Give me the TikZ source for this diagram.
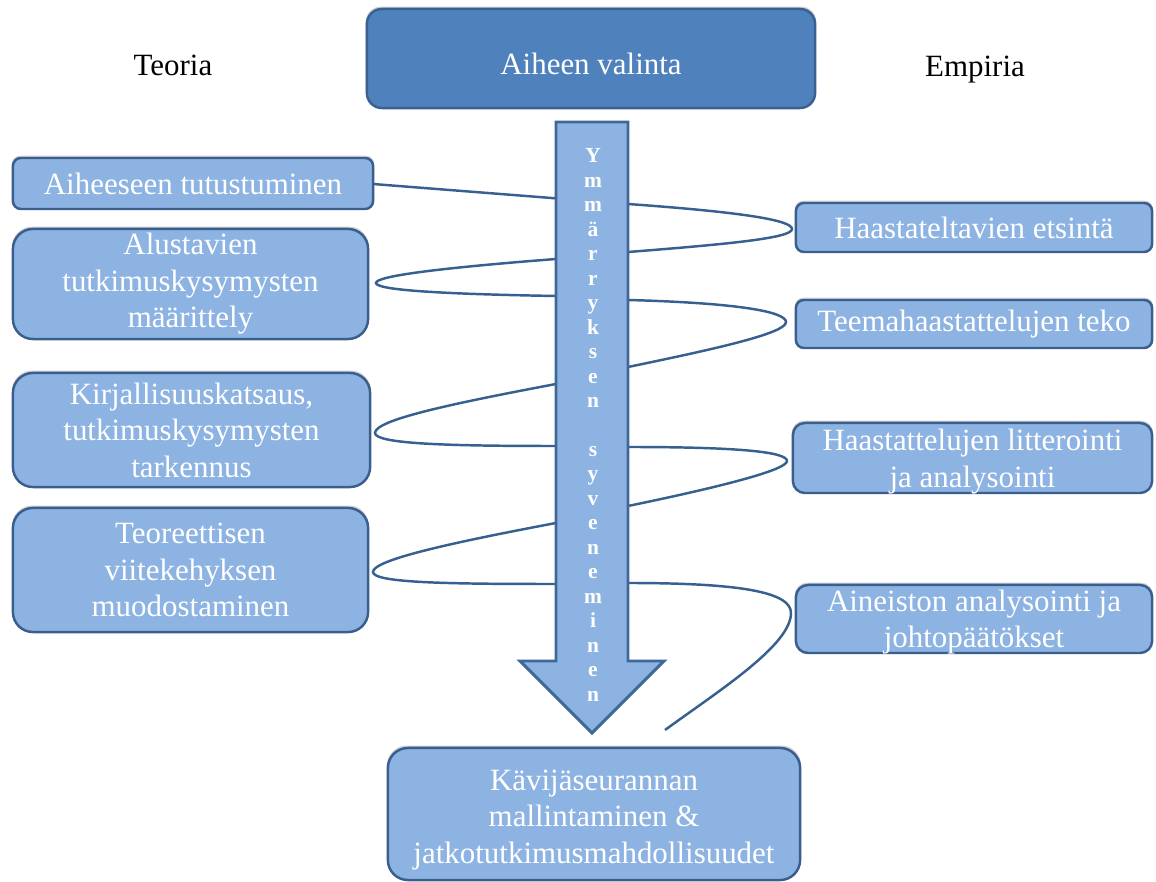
\documentclass[tikz,border=0pt]{standalone}
\usepackage{fontspec}
\setmainfont{Liberation Serif}
\usetikzlibrary{shadows}
\definecolor{boxfill}{HTML}{8DB3E2}
\definecolor{boxline}{HTML}{3A5F8E}
\definecolor{topfill}{HTML}{4F81BD}
\definecolor{topline}{HTML}{3B6193}
\definecolor{spiralcol}{HTML}{36608F}
\definecolor{arrowline}{HTML}{3F6797}
\begin{document}
\begin{tikzpicture}[x=0.01cm,y=-0.01cm,
  box/.style={draw=boxline, line width=0.7pt, fill=boxfill, rounded corners=#1,
    inner sep=0pt, text=white, align=center,
    font=\fontsize{8.8}{10.4}\selectfont,
    drop shadow={opacity=0.3, shadow xshift=0pt, shadow yshift=0.6pt, shadow scale=1.005, fill=black!60}},
  box/.default=0.08cm,
  topbox/.style={box=0.15cm, fill=topfill, draw=topline},
  boxtext/.style={text=white, align=center, inner sep=0pt, font=\fontsize{8.8}{10.4}\selectfont},
  sidelabel/.style={font=\fontsize{8.8}{10.4}\selectfont, text=black, inner sep=0pt, anchor=base},
  spiralline/.style={draw=spiralcol, line width=0.7pt},
  bigarrow/.style={draw=arrowline, line width=0.85pt, fill=boxfill, line join=miter},
  arrowtext/.style={text=white, align=center, inner sep=0pt, font=\bfseries\fontsize{6.1}{6.96}\selectfont}
]
\useasboundingbox (0,0) rectangle (1156,882);

% top box and side labels
\node[topbox, minimum width=4.48cm, minimum height=0.99cm] (top) at (591,58.5) {};
\node[boxtext, anchor=base] (toptext) at (591,75) {Aiheen valinta};
\node[sidelabel] (teoria) at (173,76) {Teoria};
\node[sidelabel] (empiria) at (975,77) {Empiria};

% spiral (drawn behind the arrow)
\coordinate (spiralend) at (665,730);
\draw[spiralline] (373,184) -- (628,204)
  .. controls (740,212) and (792,220) .. (792,229)
  .. controls (792,238) and (730,244) .. (628,252)
  -- (556,259)
  .. controls (440,268) and (376,276) .. (376,283)
  .. controls (376,290) and (440,294) .. (556,296)
  -- (628,300)
  .. controls (740,303) and (786,312) .. (786,322)
  .. controls (786,333) and (720,348) .. (628,367)
  -- (556,384)
  .. controls (450,404) and (375,420) .. (375,433)
  .. controls (375,444) and (450,446) .. (556,446)
  -- (628,447)
  .. controls (740,447) and (787,452) .. (787,461)
  .. controls (787,470) and (720,487) .. (628,506)
  -- (556,523)
  .. controls (450,543) and (373,560) .. (373,572)
  .. controls (373,583) and (450,584) .. (556,584)
  -- (628,583)
  .. controls (740,583) and (791,592) .. (791,613)
  .. controls (791,645) and (720,690) .. (spiralend);

% big arrow
\draw[bigarrow] (556,122) -- (628,122) -- (628,661) -- (664,661) -- (592,733) -- (520,661) -- (556,661) -- cycle;
\node[arrowtext] (deep) at (593,425) {Y\\m\\m\\ä\\r\\r\\y\\k\\s\\e\\n\\\mbox{}\\s\\y\\v\\e\\n\\e\\m\\i\\n\\e\\n};

% left boxes
\node[box, minimum width=3.60cm, minimum height=0.51cm] (l1) at (193,183.5) {Aiheeseen tutustuminen};
\node[box=0.2cm, minimum width=3.55cm, minimum height=1.10cm] (l2) at (190.5,284) {Alustavien\\tutkimuskysymysten\\määrittely};
\node[box=0.2cm, minimum width=3.57cm, minimum height=1.14cm] (l3) at (191.5,430) {Kirjallisuuskatsaus,\\tutkimuskysymysten\\tarkennus};
\node[box=0.2cm, minimum width=3.55cm, minimum height=1.24cm] (l4) at (190.5,570) {Teoreettisen\\viitekehyksen\\muodostaminen};

% right boxes
\node[box, minimum width=3.56cm, minimum height=0.49cm] (r1) at (974,227.5) {Haastateltavien etsintä};
\node[box, minimum width=3.56cm, minimum height=0.48cm] (r2) at (974,324) {Teemahaastattelujen teko};
\node[box=0.12cm, minimum width=3.59cm, minimum height=0.70cm] (r3) at (972.5,458) {};
\node[boxtext] (r3text) at (972.5,461.5) {Haastattelujen litterointi\\ja analysointi};
\node[box=0.12cm, minimum width=3.56cm, minimum height=0.68cm] (r4) at (974,619) {};
\node[boxtext] (r4text) at (974,622) {Aineiston analysointi ja\\johtopäätökset};

% bottom box
\node[box=0.2cm, minimum width=4.12cm, minimum height=1.32cm] (bottom) at (594,814) {};
\node[boxtext] (bottomtext) at (594,820) {Kävijäseurannan\\mallintaminen \&\\jatkotutkimusmahdollisuudet};
\end{tikzpicture}
\end{document}
